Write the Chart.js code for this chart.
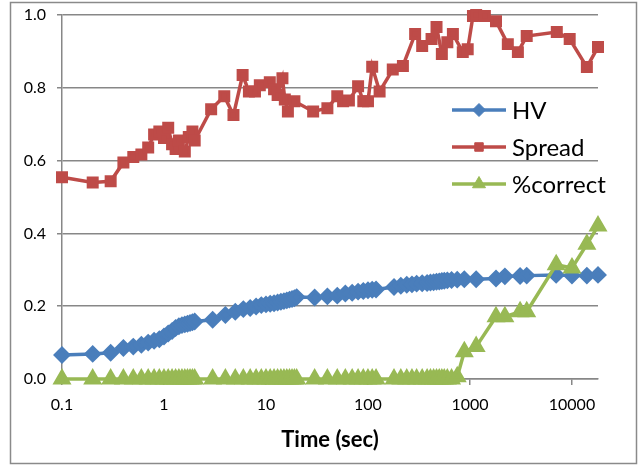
<!DOCTYPE html>
<html>
<head>
<meta charset="utf-8">
<script src="https://cdn.jsdelivr.net/npm/chart.js@4.4.0/dist/chart.umd.min.js"></script>
<style>
  html, body { margin: 0; padding: 0; background: #fff; }
  canvas { display: block; }
</style>
</head>
<body>
<canvas id="chart" width="644" height="466"></canvas>
<script>
    "use strict";

    // Data
    var spreadTime = [0.1, 0.2, 0.3, 0.4, 0.5, 0.6, 0.7, 0.8, 0.9, 1.0,
        1.1, 1.2, 1.3, 1.4, 1.6, 1.75, 1.9, 2.0, 2.9, 3.9,
        4.8, 5.9, 6.8, 7.8, 8.7, 10.9, 12, 13, 14.5, 15.3,
        16.4, 19, 29, 40, 50, 57, 65, 80, 90, 100,
        110, 130, 175, 220, 290, 340, 420, 470, 530, 600,
        680, 850, 950, 1070, 1150, 1400, 1800, 2350, 2950, 3600,
        7100, 9500, 14000, 18000];
    var spreadValues = [0.554, 0.54, 0.543, 0.595, 0.61, 0.617, 0.636, 0.672, 0.68, 0.662,
        0.69, 0.645, 0.632, 0.655, 0.625, 0.665, 0.68, 0.655, 0.741, 0.777,
        0.725, 0.835, 0.79, 0.79, 0.807, 0.815, 0.796, 0.78, 0.826, 0.768,
        0.735, 0.763, 0.735, 0.744, 0.777, 0.763, 0.765, 0.804, 0.763, 0.763,
        0.858, 0.79, 0.85, 0.86, 0.948, 0.915, 0.934, 0.967, 0.893, 0.925,
        0.948, 0.898, 0.906, 0.997, 1.0, 0.997, 0.983, 0.92, 0.898, 0.942,
        0.953, 0.934, 0.857, 0.912];

    var runTime = [0.1, 0.2, 0.3, 0.4, 0.5, 0.6, 0.7, 0.8, 0.9, 1.0,
        1.1, 1.2, 1.3, 1.4, 1.5, 1.6, 1.7, 1.8, 1.9, 2.0,
        3, 4, 5, 6, 7, 8, 9, 10, 11, 12,
        13, 14, 15, 16, 17, 18, 19, 20, 30, 40,
        50, 60, 70, 80, 90, 100, 110, 120, 180, 210,
        240, 270, 300, 340, 380, 410, 440, 470, 500, 530,
        560, 600, 660, 750, 880, 1150, 1800, 2200, 3100, 3600,
        7000, 10000, 14000, 18000];
    var hvValues = [0.066, 0.069, 0.072, 0.085, 0.089, 0.094, 0.1, 0.105, 0.109, 0.117,
        0.125, 0.132, 0.14, 0.145, 0.148, 0.15, 0.152, 0.154, 0.156, 0.158,
        0.163, 0.176, 0.185, 0.192, 0.195, 0.199, 0.203, 0.205, 0.207, 0.208,
        0.21, 0.212, 0.214, 0.216, 0.218, 0.22, 0.222, 0.225, 0.224, 0.227,
        0.229, 0.235, 0.237, 0.24, 0.242, 0.244, 0.245, 0.246, 0.253, 0.256,
        0.259, 0.26, 0.262, 0.263, 0.264, 0.265, 0.266, 0.267, 0.268, 0.269,
        0.27, 0.271, 0.272, 0.273, 0.274, 0.274, 0.276, 0.282, 0.283, 0.284,
        0.286, 0.284, 0.284, 0.286];
    var correctValues = [0, 0, 0, 0, 0, 0, 0, 0, 0, 0,
        0, 0, 0, 0, 0, 0, 0, 0, 0, 0,
        0, 0, 0, 0, 0, 0, 0, 0, 0, 0,
        0, 0, 0, 0, 0, 0, 0, 0, 0, 0,
        0, 0, 0, 0, 0, 0, 0, 0, 0, 0,
        0, 0, 0, 0, 0, 0, 0, 0, 0, 0,
        0, 0, 0, 0.006, 0.075, 0.089, 0.171, 0.171, 0.185, 0.185,
        0.314, 0.305, 0.37, 0.42];

    var seriesNames = ["HV", "Spread", "%correct"];
    var xTickValues = [0.1, 1, 10, 100, 1000, 10000];
    var yTickStep = 0.2;

    function toPoints(xs, ys) {
        return xs.map(function (x, i) { return {x: x, y: ys[i]}; });
    }

    // Chart frame
    var framePlugin = {
        id: 'frame',
        beforeDraw: function (chart) {
            var ctx = chart.ctx;
            ctx.save();
            ctx.fillStyle = '#fff';
            ctx.fillRect(0, 0, chart.width, chart.height);
            ctx.strokeStyle = '#8a8a8a';
            ctx.lineWidth = 1.5;
            ctx.strokeRect(10.5, 2.5, 626, 461);
            ctx.restore();
        }
    };

    // Legend drawn inside the plot, line + marker like the original
    var legendPlugin = {
        id: 'lineLegend',
        afterDatasetsDraw: function (chart) {
            var ctx = chart.ctx;
            var rows = [110, 147, 184];
            ctx.save();
            chart.data.datasets.forEach(function (ds, i) {
                var y = rows[i];
                ctx.strokeStyle = ds.borderColor;
                ctx.lineWidth = ds.borderWidth;
                ctx.beginPath();
                ctx.moveTo(452, y);
                ctx.lineTo(506, y);
                ctx.stroke();
                ctx.fillStyle = ds.pointBackgroundColor;
                ctx.strokeStyle = ds.pointBorderColor;
                ctx.lineWidth = 1;
                Chart.helpers.drawPoint(ctx, {
                    pointStyle: ds.pointStyle,
                    radius: ds.pointRadius,
                    rotation: 0,
                    borderWidth: 1
                }, 479, y);
                ctx.fillStyle = '#000';
                ctx.font = '24px Lato';
                ctx.textBaseline = 'middle';
                ctx.textAlign = 'left';
                ctx.fillText(ds.label, 512, y + 1);
            });
            ctx.restore();
        }
    };

    var ctx = document.getElementById('chart').getContext('2d');
    var myChart = new Chart(ctx, {
        type: 'line',
        data: {
            datasets: [{
                label: seriesNames[0],
                data: toPoints(runTime, hvValues),
                borderColor: '#4a7ebb',
                backgroundColor: '#4a7ebb',
                pointBackgroundColor: '#4a7ebb',
                pointBorderColor: '#4a7ebb',
                pointStyle: 'rectRot',
                pointRadius: 6.5,
                borderWidth: 3.5,
                order: 2
            }, {
                label: seriesNames[1],
                data: toPoints(spreadTime, spreadValues),
                borderColor: '#be4b48',
                backgroundColor: '#be4b48',
                pointBackgroundColor: '#be4b48',
                pointBorderColor: '#be4b48',
                pointStyle: 'rect',
                pointRadius: 6,
                borderWidth: 3.5,
                order: 1
            }, {
                label: seriesNames[2],
                data: toPoints(runTime, correctValues),
                borderColor: '#98b954',
                backgroundColor: '#98b954',
                pointBackgroundColor: '#98b954',
                pointBorderColor: '#98b954',
                pointStyle: 'triangle',
                pointRadius: 7.5,
                borderWidth: 3.5,
                order: 0
            }]
        },
        options: {
            responsive: false,
            animation: false,
            devicePixelRatio: 1,
            clip: false,
            elements: { line: { tension: 0 } },
            layout: { padding: { left: 10, top: 15, right: 46, bottom: 11 } },
            plugins: {
                legend: { display: false },
                tooltip: { enabled: false }
            },
            scales: {
                x: {
                    type: 'logarithmic',
                    min: 0.1,
                    max: 18000,
                    afterBuildTicks: function (scale) {
                        scale.ticks = xTickValues.map(function (v) { return {value: v, major: true}; });
                    },
                    afterFit: function (scale) { scale.height = 76; },
                    grid: {
                        drawOnChartArea: false,
                        drawTicks: true,
                        tickLength: 6,
                        color: '#878787',
                        lineWidth: 1.5
                    },
                    border: { color: '#878787', width: 1.5 },
                    ticks: {
                        autoSkip: false,
                        maxRotation: 0,
                        padding: 10,
                        color: '#000',
                        font: { family: 'Lato', size: 16 },
                        callback: function (value) { return String(value); }
                    },
                    title: {
                        display: true,
                        text: 'Time (sec)',
                        color: '#000',
                        font: { family: 'Lato', size: 22, weight: 'bold' },
                        padding: { top: 0, bottom: 2 }
                    }
                },
                y: {
                    min: 0,
                    max: 1,
                    afterFit: function (scale) {
                        scale.width = 52;
                        scale.paddingTop = 0;
                        scale.paddingBottom = 0;
                    },
                    grid: {
                        color: '#878787',
                        lineWidth: 1.5,
                        tickLength: 5
                    },
                    border: { color: '#878787', width: 1.5 },
                    ticks: {
                        stepSize: yTickStep,
                        padding: 11,
                        color: '#000',
                        font: { family: 'Lato', size: 16 },
                        callback: function (value) { return value.toFixed(1); }
                    }
                }
            }
        },
        plugins: [framePlugin, legendPlugin]
    });
</script>
</body>
</html>
